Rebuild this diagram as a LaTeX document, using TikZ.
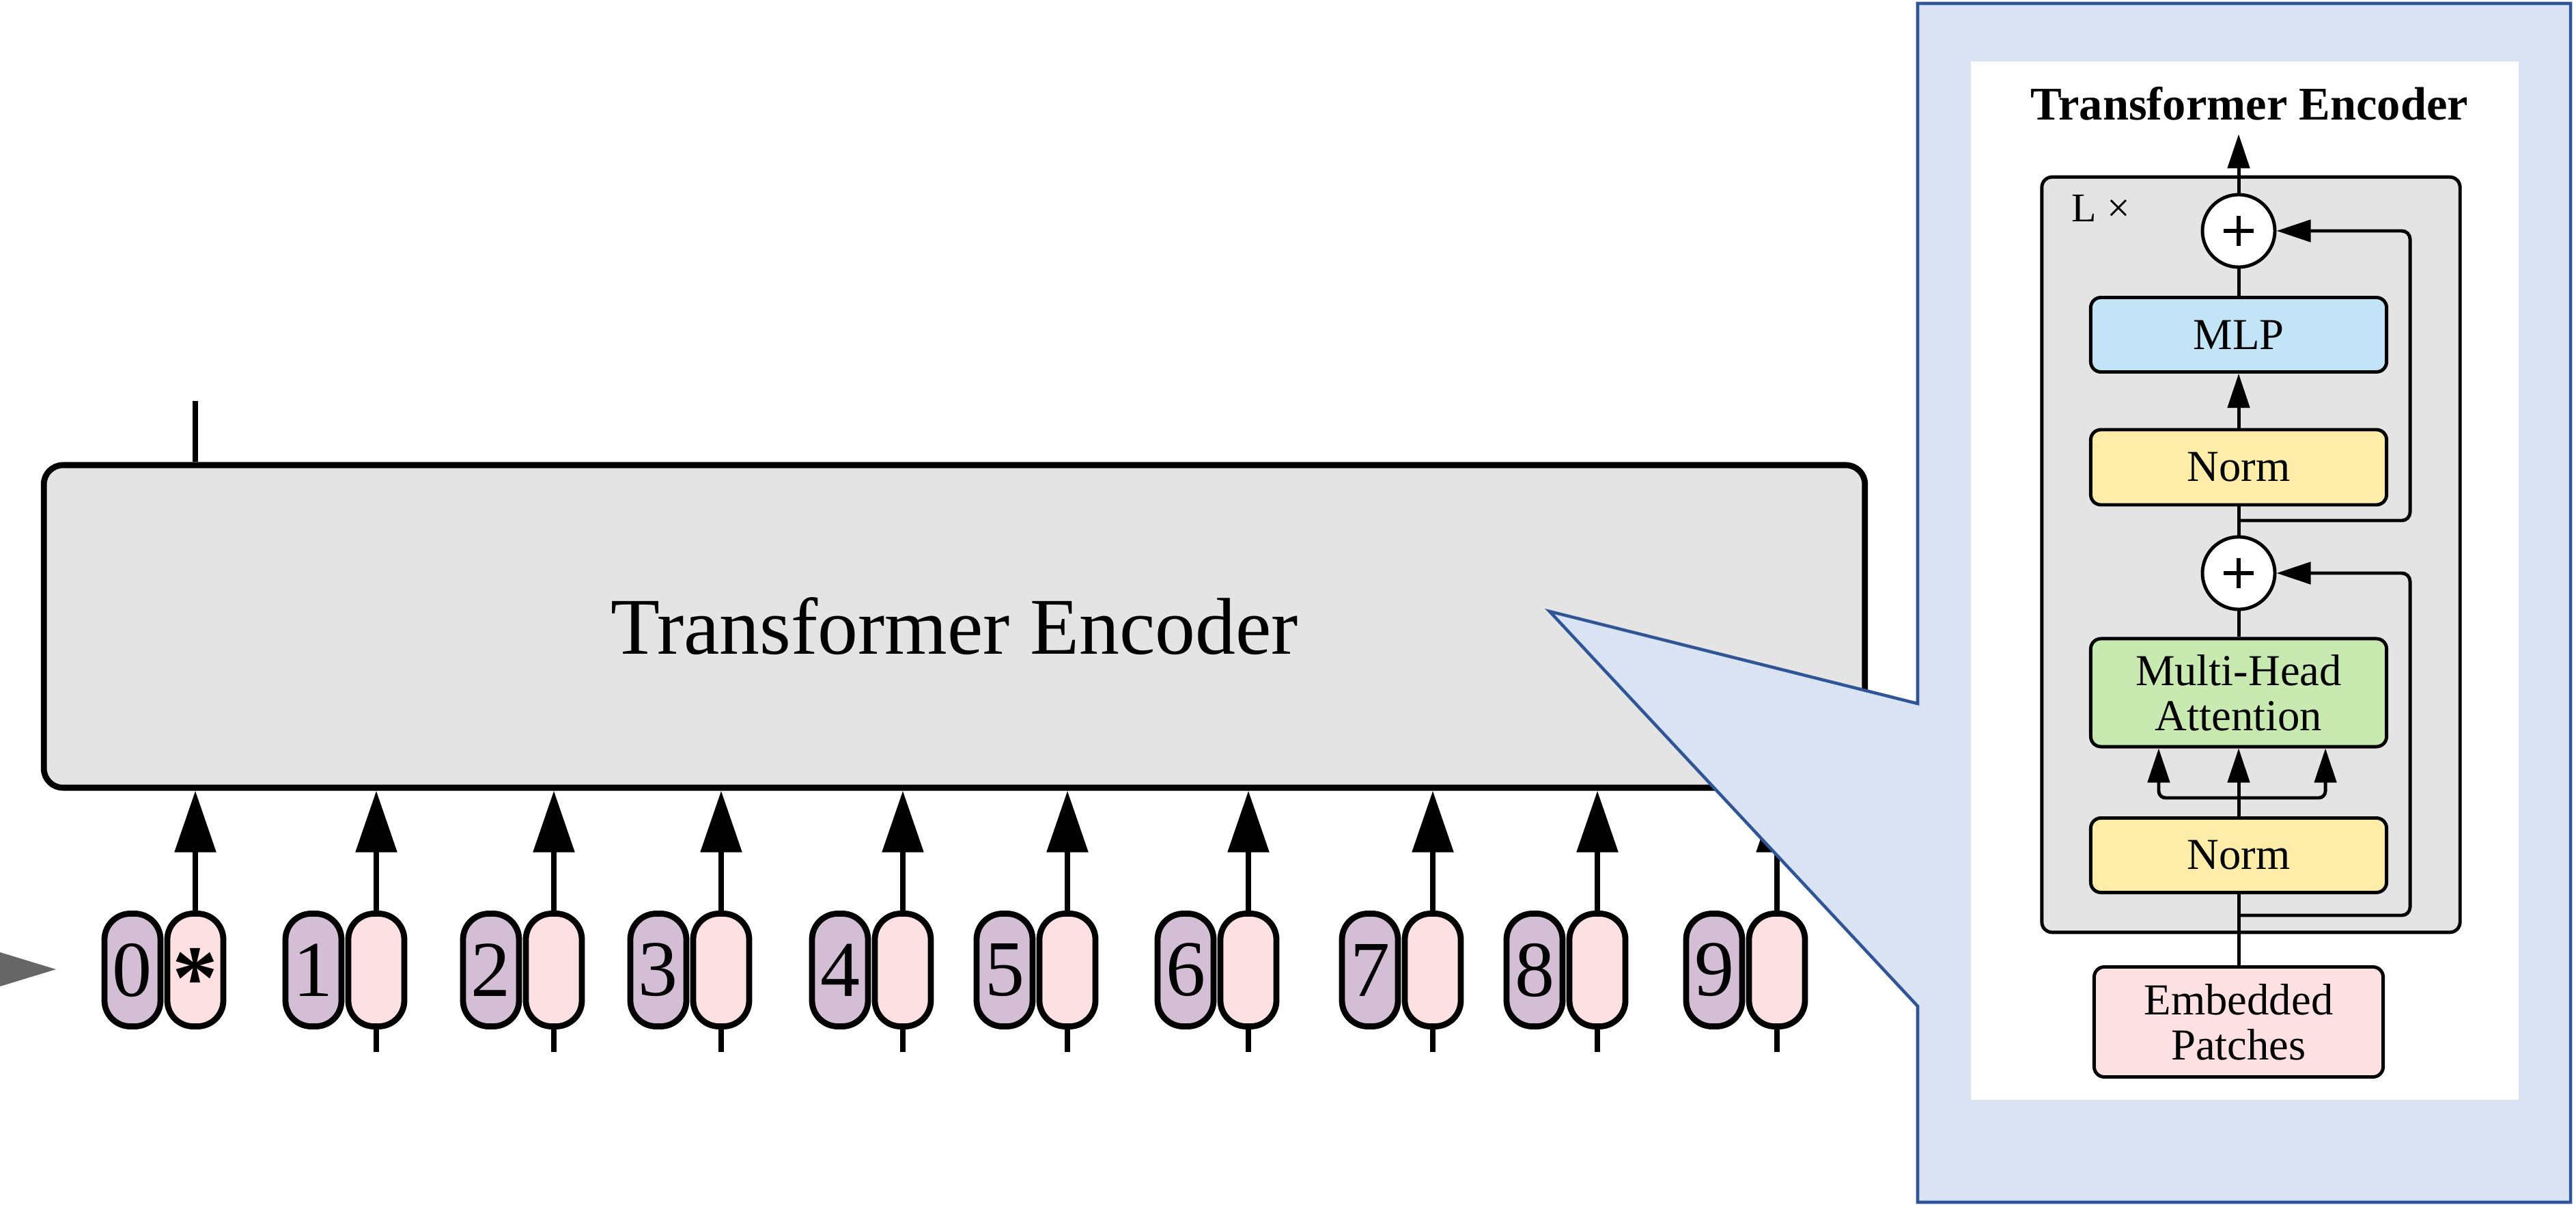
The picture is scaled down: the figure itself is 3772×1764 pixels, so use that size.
\documentclass[tikz,border=0pt]{standalone}
\usepackage{fontspec}
\setmainfont{Liberation Serif}
\usetikzlibrary{arrows.meta,positioning,calc}

\definecolor{encgray}{HTML}{E4E4E4}
\definecolor{tokpurple}{HTML}{D4BED5}
\definecolor{tokpink}{HTML}{FDE0E1}
\definecolor{callfill}{HTML}{DAE3F3}
\definecolor{callline}{HTML}{2F5597}
\definecolor{mlpblue}{HTML}{C2E4F6}
\definecolor{normyellow}{HTML}{FEECA9}
\definecolor{attgreen}{HTML}{C8E9AF}
\definecolor{pointgray}{HTML}{666666}

\newcommand{\tokY}{1420}
\newcommand{\colX}{3278}

\tikzset{
  bigline/.style={line width=2.5pt},
  thinline/.style={line width=1.4pt},
  pill/.style={draw, bigline, rounded corners=0.38cm, minimum width=0.82cm,
    minimum height=1.65cm, inner sep=0pt, font=\fontsize{33}{33}\selectfont},
  bigarrow/.style={bigline, -{Triangle[length=0.9cm,width=0.59cm]}},
  smallarrow/.style={thinline, -{Triangle[length=0.5cm,width=0.32cm]}},
  block/.style={draw, thinline, rounded corners=0.15cm, minimum width=4.33cm,
    inner sep=0pt, align=center, font=\fontsize{18.4}{18.8}\selectfont},
  addnode/.style={draw, thinline, circle, fill=white, minimum size=1.06cm, inner sep=0pt,
    path picture={\draw[line width=1.7pt]
      (path picture bounding box.center) ++(-0.22cm,0) -- ++(0.44cm,0)
      (path picture bounding box.center) ++(0,-0.22cm) -- ++(0,0.44cm);}},
}

\begin{document}
\begin{tikzpicture}[x=0.01cm,y=-0.01cm]
\useasboundingbox (0,0) rectangle (3772,1764);

% big encoder block
\node[draw, bigline, fill=encgray, rounded corners=0.28cm, minimum width=26.65cm,
  minimum height=4.72cm, font=\fontsize{33.5}{33.5}\selectfont] (enc) at (1397.5,917) {Transformer Encoder};

% position + patch tokens
\foreach \x [count=\i from 0] in {286,551,811,1056,1322,1563,1828,2098,2339,2602}
{
  \node[pill, fill=tokpurple] (q\i) at (\x-92,\tokY) {\i};
  \node[pill, fill=tokpink] (p\i) at (\x,\tokY) {};
  \draw[bigarrow] (p\i.north) -- (p\i.north |- enc.south);
}
\node[inner sep=0pt, font=\bfseries\fontsize{38}{38}\selectfont] (star) at ([yshift=-0.12cm]p0.center) {*};
\foreach \i in {1,...,9}
{
  \draw[bigline] (p\i.south) -- ++(0,33);
}
\draw[bigline] (enc.north -| p0) -- ++(0,-89);
\fill[pointgray] (0,1394) -- (82,1419) -- (0,1444) -- cycle;

% callout
\draw[callline, fill=callfill, line width=1.3pt] (2808,5) -- (3764,5) -- (3764,1760) -- (2808,1760)
  -- (2808,1473) -- (2269,895) -- (2808,1030) -- cycle;
\fill[white] (2886,90) rectangle (3688,1610);

% encoder layer
\node[draw, thinline, fill=encgray, rounded corners=0.15cm, minimum width=6.12cm,
  minimum height=11.05cm] (stack) at (3296,812) {};
\node[anchor=base west, inner sep=0pt, font=\fontsize{17}{17}\selectfont] (reps) at (3033,325) {L ×};
\node[anchor=base, inner sep=0pt, font=\bfseries\fontsize{19.5}{19.5}\selectfont] (title) at (3294,176) {Transformer Encoder};

\node[addnode] (adda) at (\colX,338) {};
\node[block, fill=mlpblue, minimum height=1.09cm] (mlp) at (\colX,490) {MLP};
\node[block, fill=normyellow, minimum height=1.10cm] (norma) at (\colX,684) {Norm};
\node[addnode] (addb) at (\colX,839) {};
\node[block, fill=attgreen, minimum height=1.58cm] (mha) at (\colX,1014) {Multi-Head\\Attention};
\node[block, fill=normyellow, minimum height=1.09cm] (normb) at (\colX,1252) {Norm};
\node[block, fill=tokpink, minimum width=4.23cm, minimum height=1.61cm] (emb) at (\colX,1496) {Embedded\\Patches};

\coordinate (ja) at (\colX,762);
\coordinate (jb) at (\colX,1340);
\coordinate (fork) at (\colX,1168);
\coordinate (skip) at (3529,0);

\draw[smallarrow, shorten >=0.19cm] (adda) -- (title.south -| adda);
\draw[thinline] (mlp) -- (adda);
\draw[smallarrow] (norma) -- (mlp);
\draw[thinline] (norma) -- (addb);
\draw[thinline] (addb) -- (mha);
\draw[smallarrow] (normb) -- (mha);
\draw[smallarrow, rounded corners=0.1cm] (fork) -| ([xshift=-1.17cm]mha.south);
\draw[smallarrow, rounded corners=0.1cm] (fork) -| ([xshift=1.27cm]mha.south);
\draw[thinline] (emb) -- (normb);
\draw[smallarrow, rounded corners=0.12cm] (ja) -- (ja -| skip) -- (skip |- adda) -- (adda);
\draw[smallarrow, rounded corners=0.12cm] (jb) -- (jb -| skip) -- (skip |- addb) -- (addb);

\end{tikzpicture}
\end{document}
